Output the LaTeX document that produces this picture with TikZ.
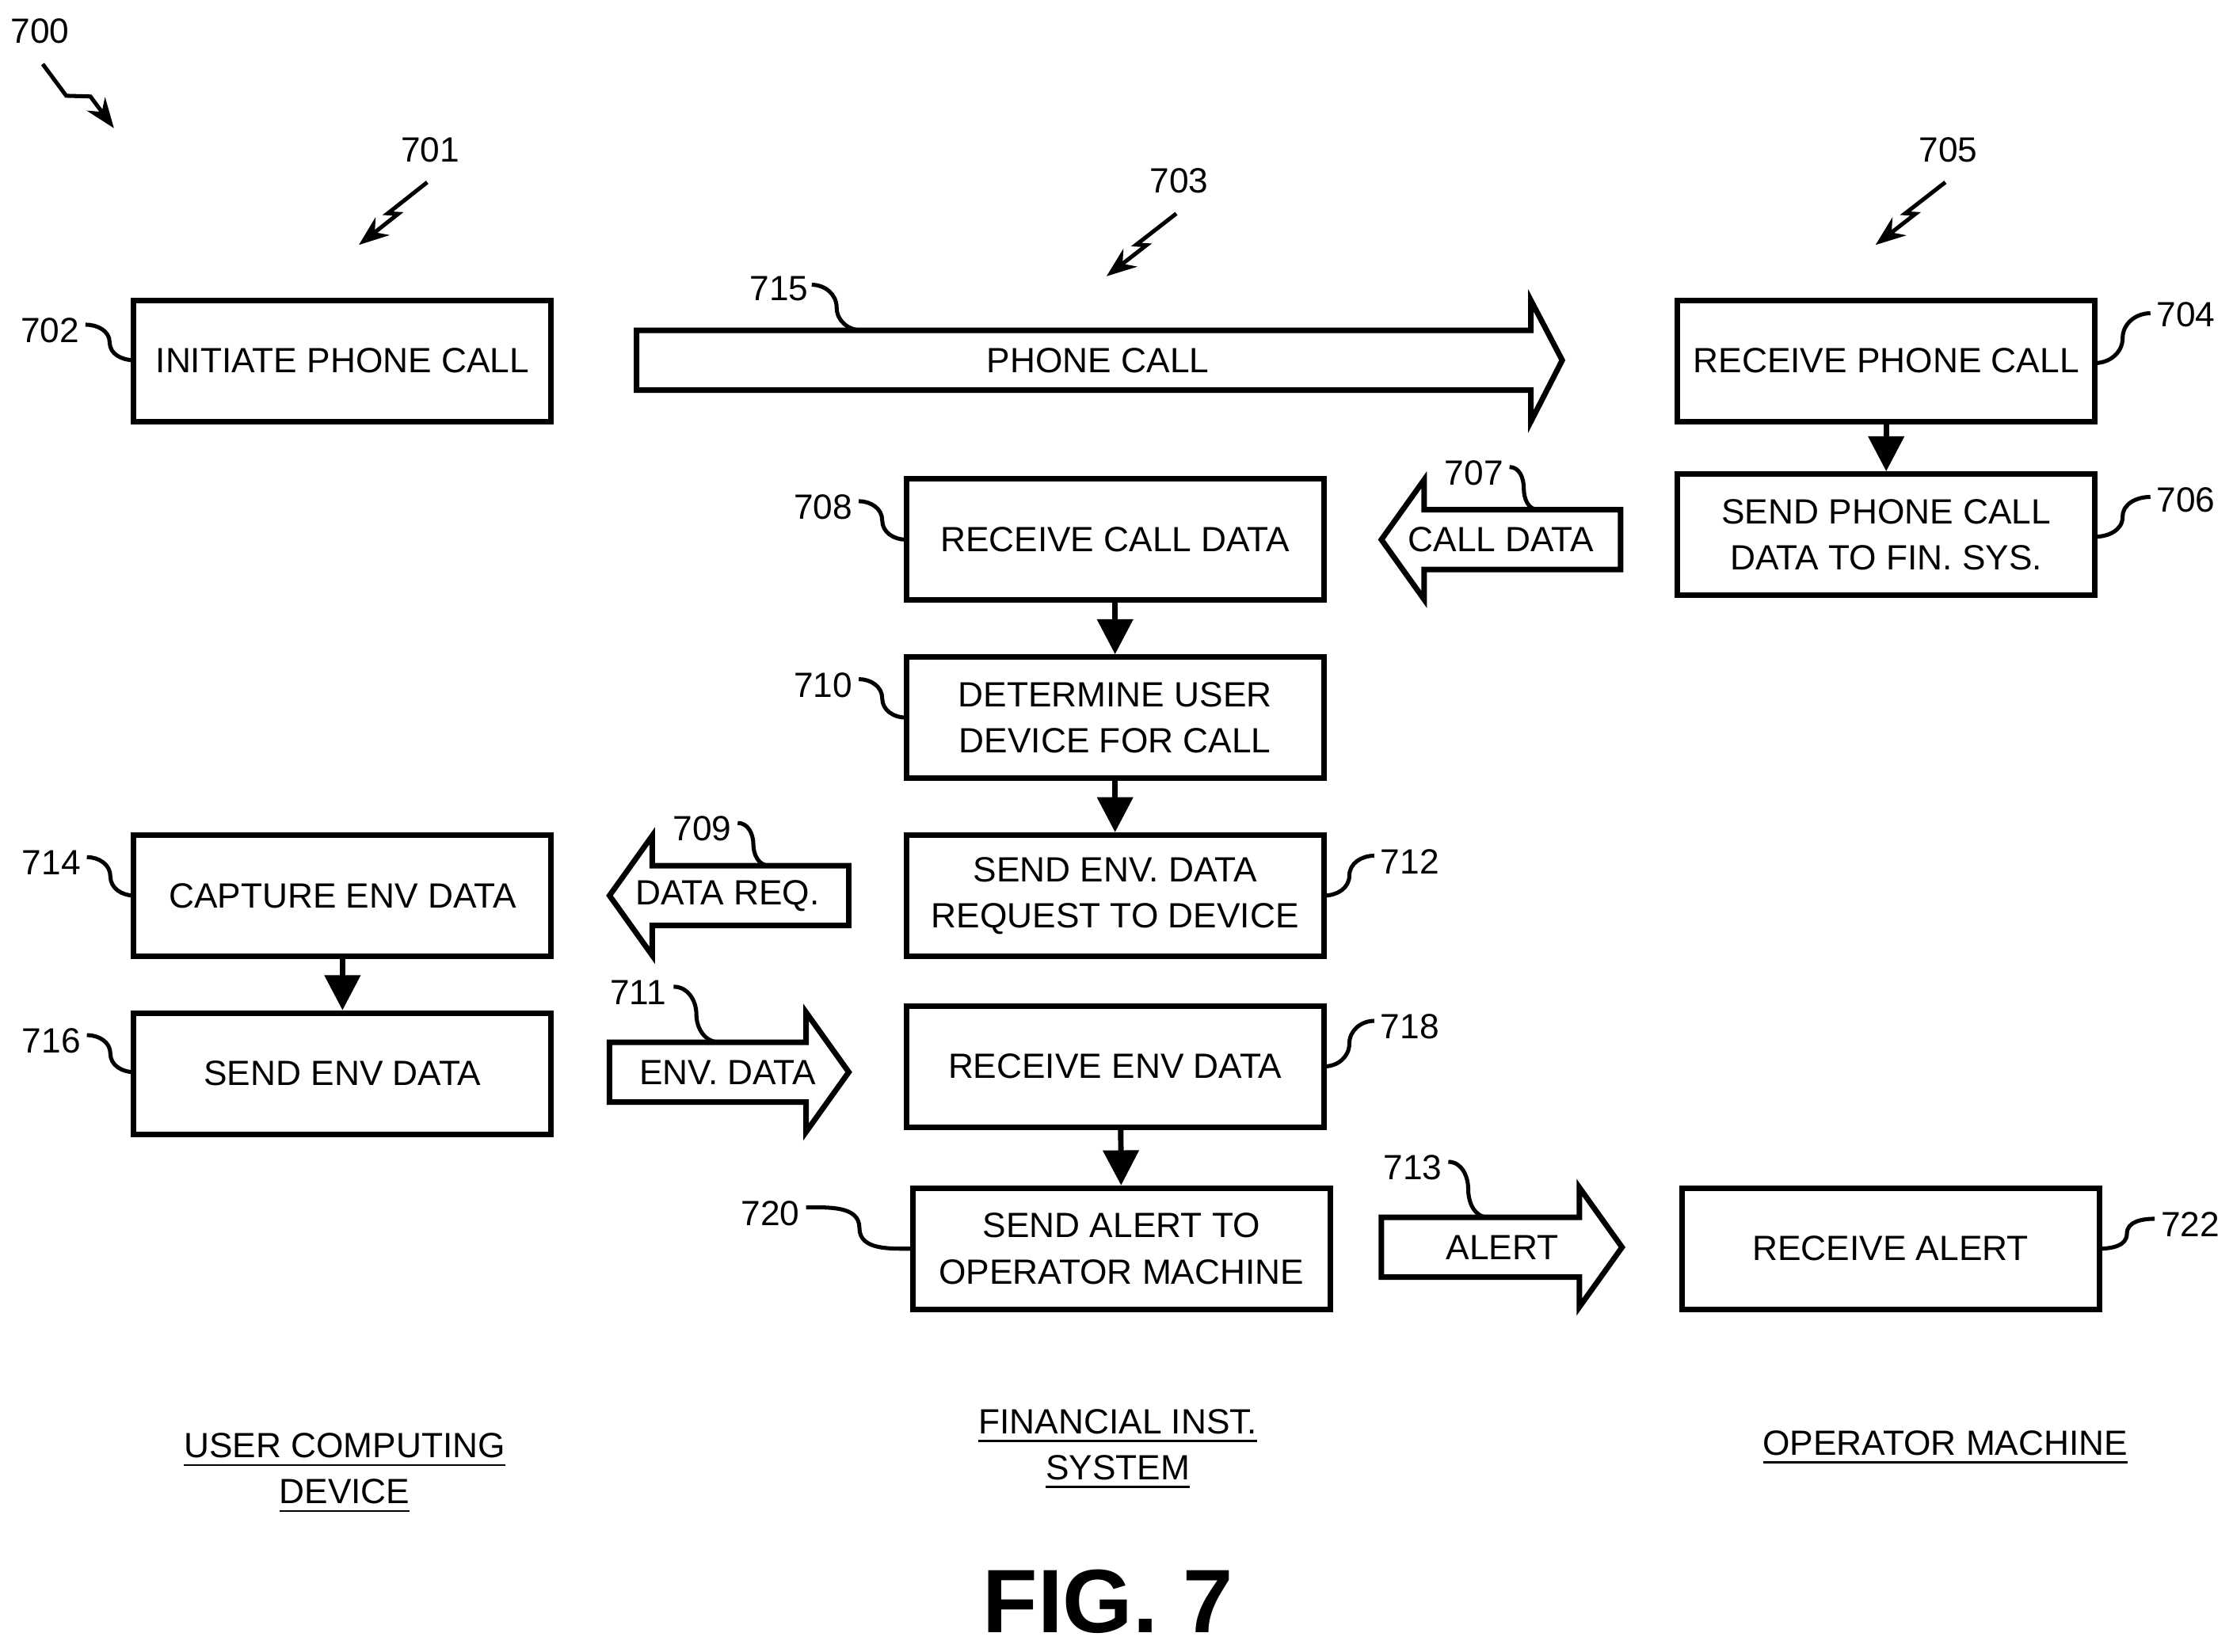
\documentclass[tikz,border=0pt]{standalone}
\usepackage{fontspec}
\setmainfont{Liberation Sans}
\usetikzlibrary{calc,arrows.meta}
\begin{document}
\begin{tikzpicture}[x=0.01cm,y=-0.01cm,
  box/.style={draw,line width=1.1pt,minimum width=2.93cm,minimum height=0.85cm,align=center,inner sep=1pt,font=\fontsize{7}{9.2}\selectfont},
  lbl/.style={font=\fontsize{7}{8}\selectfont,inner sep=1pt},
  barr/.style={draw,line width=1.1pt,fill=white},
  atext/.style={font=\fontsize{7}{8}\selectfont,inner sep=0pt},
  lane/.style={font=\fontsize{7}{9.2}\selectfont,align=center}]
\useasboundingbox (0,0) rectangle (1568,1160);
\newcommand{\sq}[2]{\draw[line width=0.8pt] #1 to[out=0,in=90] ($#1!0.5!#2$) to[out=-90,in=180] #2;}
\newcommand{\sqr}[2]{\draw[line width=0.8pt] #1 to[out=180,in=90] ($#1!0.5!#2$) to[out=-90,in=0] #2;}
\newcommand{\zz}[2]{\draw[line width=0.8pt,-{Stealth[length=6pt]}] #1 -- ($#1!0.45!#2+(-6,2)$) -- ($#1!0.55!#2+(6,-2)$) -- #2;}
% boxes
\node[box] (b702) at (240.5,253.5) {INITIATE PHONE CALL};
\node[box] (b704) at (1324.5,253.5) {RECEIVE PHONE CALL};
\node[box] (b706) at (1324.5,375.5) {SEND PHONE CALL\\DATA TO FIN. SYS.};
\node[box] (b708) at (783,379) {RECEIVE CALL DATA};
\node[box] (b710) at (783,504) {DETERMINE USER\\DEVICE FOR CALL};
\node[box] (b712) at (783,629) {SEND ENV. DATA\\REQUEST TO DEVICE};
\node[box] (b714) at (240.5,629) {CAPTURE ENV DATA};
\node[box] (b716) at (240.5,754) {SEND ENV DATA};
\node[box] (b718) at (783,749) {RECEIVE ENV DATA};
\node[box] (b720) at (787.5,877) {SEND ALERT TO\\OPERATOR MACHINE};
\node[box] (b722) at (1327.5,877) {RECEIVE ALERT};
% connectors
\foreach \a/\b in {b704/b706,b708/b710,b710/b712,b714/b716}
  \draw[line width=1.1pt,-{Triangle[length=7pt,width=7pt]}] (\a) -- (\b);
\draw[line width=1.1pt,-{Triangle[length=7pt,width=7pt]}] (b718.south -| 787,0) -- (b720);
% block arrows
\draw[barr] (447,232) -- (1075,232) -- (1075,211) -- (1097,253) -- (1075,296) -- (1075,274) -- (447,274) -- cycle;
\node[atext] (t715) at (771,253) {PHONE CALL};
\draw[barr] (1138,358) -- (1000,358) -- (1000,337) -- (970,379) -- (1000,421) -- (1000,400) -- (1138,400) -- cycle;
\node[atext] (t707) at (1054,379) {CALL DATA};
\draw[barr] (596,608) -- (458,608) -- (458,587) -- (428,629) -- (458,671) -- (458,650) -- (596,650) -- cycle;
\node[atext] (t709) at (511,629) {DATA REQ.};
\draw[barr] (428,732) -- (566,732) -- (566,711) -- (596,753) -- (566,795) -- (566,774) -- (428,774) -- cycle;
\node[atext] (t711) at (511,753) {ENV. DATA};
\draw[barr] (970,855) -- (1109,855) -- (1109,834) -- (1139,876) -- (1109,918) -- (1109,897) -- (970,897) -- cycle;
\node[atext] (t713) at (1055,876) {ALERT};
% reference labels
\node[lbl] (l702) at (35,232) {702}; \sq{(60,228)}{(94,253)}
\node[lbl] (l715) at (547,203) {715}; \sq{(570,200)}{(605,232)}
\node[lbl] (l704) at (1535,221) {704}; \sqr{(1510,220)}{(1471,255)}
\node[lbl] (l706) at (1535,351) {706}; \sqr{(1510,349)}{(1471,377)}
\node[lbl] (l707) at (1035,332) {707}; \sq{(1060,328)}{(1080,358)}
\node[lbl] (l708) at (578,356) {708}; \sq{(603,352)}{(636,379)}
\node[lbl] (l710) at (578,481) {710}; \sq{(603,477)}{(636,504)}
\node[lbl] (l712) at (990,605) {712}; \sqr{(965,601)}{(930,629)}
\node[lbl] (l709) at (493,582) {709}; \sq{(518,578)}{(540,608)}
\node[lbl] (l714) at (36,606) {714}; \sq{(61,602)}{(94,629)}
\node[lbl] (l716) at (36,731) {716}; \sq{(61,727)}{(94,753)}
\node[lbl] (l711) at (448,697) {711}; \sq{(473,693)}{(505,732)}
\node[lbl] (l718) at (990,721) {718}; \sqr{(965,717)}{(930,749)}
\node[lbl] (l720) at (541,852) {720}; \sq{(566,848)}{(641,877)}
\node[lbl] (l713) at (992,820) {713}; \sq{(1017,816)}{(1045,855)}
\node[lbl] (l722) at (1538,860) {722}; \sqr{(1513,856)}{(1474,877)}
\node[lbl] (l700) at (28,22) {700}; \zz{(30,45)}{(80,90)}
\node[lbl] (l701) at (302,105) {701}; \zz{(300,128)}{(252,172)}
\node[lbl] (l703) at (828,127) {703}; \zz{(826,150)}{(777,194)}
\node[lbl] (l705) at (1368,105) {705}; \zz{(1366,128)}{(1317,172)}
% lanes
\node[lane] (ln1) at (242,1035) {\underline{USER COMPUTING}\\\underline{DEVICE}};
\node[lane] (ln2) at (785,1018) {\underline{FINANCIAL INST.}\\\underline{SYSTEM}};
\node[lane] (ln3) at (1366,1017) {\underline{OPERATOR MACHINE}};
\node[font=\bfseries\fontsize{18}{22}\selectfont] (fig) at (778,1125) {FIG. 7};
\end{tikzpicture}
\end{document}
